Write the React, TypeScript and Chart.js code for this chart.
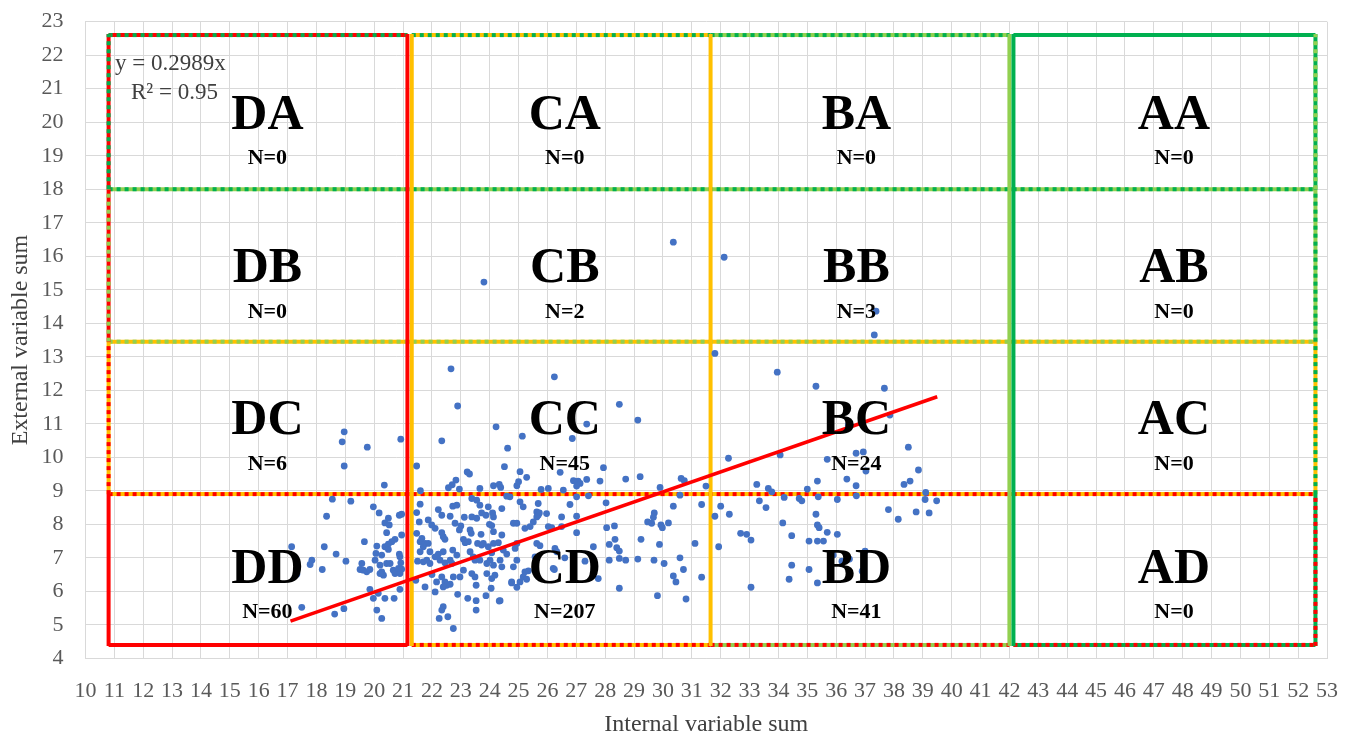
import React, { useEffect, useRef } from 'react';
import { Chart, registerables } from 'chart.js';
Chart.register(...registerables);

// ---------- axis ranges ----------
const xMin = 10, xMax = 53, yMin = 4, yMax = 23;
const xTitle = 'Internal variable sum';
const yTitle = 'External variable sum';

// ---------- region boundaries (data units) ----------
const colEdgesD = [10.8, 21.15];
const colEdgesC = [21.3, 31.65];
const colEdgesB = [31.65, 42.0];
const colEdgesA = [42.14, 52.6];
const rowEdges = [4.4, 8.9, 13.45, 18, 22.6];

// ---------- region labels ----------
const regionNames = ['DA', 'CA', 'BA', 'AA', 'DB', 'CB', 'BB', 'AB', 'DC', 'CC', 'BC', 'AC', 'DD', 'CD', 'BD', 'AD'];
const regionCounts = [0, 0, 0, 0, 0, 2, 3, 0, 6, 45, 24, 0, 60, 207, 41, 0];
const labelColX = [16.3, 26.6, 36.7, 47.7];
const labelNameRowY = [20.3, 15.72, 11.2, 6.75];
const labelCountRowY = [18.95, 14.38, 9.83, 5.4];

// ---------- trendline ----------
const trendSlope = 0.2989;
const trendRSquared = 0.95;
const trendXRange = [17.1, 39.5];

// ---------- data points by region ----------
const ptsDC = [[18.96, 10.76], [18.89, 10.46], [19.76, 10.3], [20.92, 10.54], [18.96, 9.74], [20.35, 9.17]];

const ptsDD = [
  [17.14, 7.33], [17.32, 6.51], [17.84, 6.93], [17.78, 6.8], [17.49, 5.52], [18.27, 7.33], [18.2, 6.65],
  [18.68, 7.11], [19.02, 6.9], [18.35, 8.24], [18.55, 8.75], [19.19, 8.69], [18.63, 5.32], [18.95, 5.48],
  [19.66, 7.48], [19.57, 6.83], [19.51, 6.65], [19.62, 6.63], [19.74, 6.58], [19.85, 6.65], [19.97, 8.52],
  [20.17, 8.34], [20.49, 8.18], [20.37, 8.04], [20.52, 7.98], [20.43, 7.75], [20.87, 8.27], [20.95, 8.3],
  [20.72, 7.55], [20.61, 7.48], [20.49, 7.41], [20.09, 7.35], [20.06, 7.13], [20.26, 7.08], [20.37, 7.33],
  [20.49, 7.25], [20.87, 7.11], [20.03, 6.93], [20.2, 6.78], [20.26, 6.58], [20.43, 6.83], [20.55, 6.83],
  [20.32, 6.48], [20.2, 6.53], [20.66, 6.63], [20.72, 6.53], [20.84, 6.68], [20.95, 6.66], [20.89, 6.53],
  [20.92, 6.85], [19.85, 6.06], [19.97, 5.79], [20.14, 5.94], [20.37, 5.79], [20.69, 5.79], [20.89, 6.06],
  [20.09, 5.44], [20.26, 5.19], [20.95, 7.68], [20.89, 7.03]
];

const ptsCB = [[23.8, 15.23], [30.36, 16.42]];

const ptsCC = [
  [21.47, 9.74], [22.66, 12.64], [22.89, 11.53], [22.34, 10.49], [24.22, 10.91], [25.13, 10.63], [24.62, 10.27],
  [26.24, 12.4], [23.22, 9.56], [23.3, 9.5], [24.51, 9.72], [25.05, 9.57], [25.28, 9.4], [22.83, 9.32],
  [22.7, 9.18], [22.57, 9.09], [23.66, 9.07], [24.13, 9.15], [24.33, 9.19], [24.38, 9.1], [24.94, 9.15],
  [25.0, 9.27], [25.78, 9.04], [26.03, 9.07], [28.49, 11.58], [29.13, 11.11], [27.36, 10.99], [26.86, 10.56],
  [26.44, 9.55], [27.94, 9.69], [27.36, 9.34], [27.06, 9.29], [27.82, 9.29], [28.71, 9.35], [29.21, 9.42],
  [30.63, 9.37], [30.74, 9.3], [29.9, 9.1], [31.49, 9.14], [26.55, 9.02], [27.13, 9.22], [27.01, 9.14],
  [22.95, 9.05], [21.6, 9.0], [26.9, 9.3]
];

const ptsCD = [
  [24.59, 8.84], [24.7, 8.82], [23.38, 8.77], [23.55, 8.72], [23.66, 8.57], [21.59, 8.6], [22.72, 8.54],
  [22.86, 8.57], [22.22, 8.44], [22.34, 8.27], [24.1, 8.34], [25.05, 8.67], [25.16, 8.52], [25.68, 8.62],
  [25.63, 8.37], [25.68, 8.27], [23.12, 8.21], [23.38, 8.22], [23.55, 8.18], [23.72, 8.34], [23.87, 8.27],
  [23.95, 8.52], [21.87, 8.13], [21.56, 8.07], [22.63, 8.24], [25.51, 8.07], [25.4, 7.93], [25.22, 7.88],
  [24.82, 8.03], [24.94, 8.03], [21.99, 7.98], [22.11, 7.88], [22.8, 8.03], [22.95, 7.83], [23.99, 8.0],
  [24.07, 7.96], [23.32, 7.83], [23.36, 7.73], [24.13, 7.78], [24.42, 7.68], [21.47, 7.73], [21.65, 7.58],
  [21.59, 7.48], [21.76, 7.43], [21.87, 7.43], [22.34, 7.75], [22.39, 7.63], [22.45, 7.55], [23.09, 7.55],
  [23.15, 7.45], [23.26, 7.48], [23.58, 7.43], [23.72, 7.38], [23.78, 7.43], [23.95, 7.33], [24.13, 7.43],
  [24.07, 7.15], [24.94, 7.43], [24.88, 7.28], [24.47, 7.23], [24.59, 7.11], [23.32, 7.18], [23.43, 7.03],
  [23.49, 6.93], [22.72, 7.23], [22.86, 7.08], [22.63, 6.93], [22.69, 6.83], [22.39, 7.18], [22.22, 7.11],
  [22.28, 6.93], [22.45, 6.85], [21.7, 7.33], [21.59, 7.18], [21.82, 6.93], [21.7, 6.88], [21.93, 6.83],
  [21.93, 7.18], [22.11, 7.03], [23.66, 6.93], [23.9, 6.83], [24.01, 6.93], [24.13, 6.78], [24.36, 6.93],
  [24.42, 6.73], [24.82, 6.73], [24.94, 6.93], [23.9, 6.53], [24.18, 6.48], [24.07, 6.38], [23.09, 6.63],
  [22.97, 6.43], [22.74, 6.43], [23.38, 6.53], [23.49, 6.43], [22.34, 6.43], [22.45, 6.28], [22.51, 6.18],
  [22.39, 6.13], [22.16, 6.28], [22.11, 5.98], [21.76, 6.13], [22.63, 6.21], [23.53, 6.18], [24.05, 6.09],
  [23.87, 5.87], [24.76, 6.25], [24.94, 6.12], [24.36, 5.72], [23.53, 5.72], [23.53, 5.44], [23.24, 5.79],
  [22.89, 5.91], [22.39, 5.54], [22.34, 5.44], [22.25, 5.19], [22.55, 5.24], [22.74, 4.89], [25.16, 6.43],
  [25.28, 6.36], [25.57, 7.03], [26.2, 6.68], [24.42, 8.47], [24.13, 8.22], [21.44, 6.33], [21.47, 8.35],
  [21.5, 6.9], [22.0, 6.5], [23.0, 7.95], [23.7, 7.7], [24.3, 7.45],
  [30.59, 8.87], [27.42, 8.85], [27.01, 8.82], [26.78, 8.59], [28.03, 8.64], [30.36, 8.54], [31.34, 8.59],
  [27.01, 8.24], [26.49, 8.22], [29.7, 8.34], [29.67, 8.21], [29.47, 8.07], [29.61, 8.03], [29.93, 7.98],
  [29.98, 7.9], [30.19, 8.04], [28.05, 7.9], [28.32, 7.95], [27.01, 7.75], [29.24, 7.55], [28.34, 7.55],
  [28.14, 7.4], [28.4, 7.3], [28.49, 7.2], [28.71, 6.93], [29.88, 7.4], [31.11, 7.43], [27.59, 7.33],
  [28.14, 6.93], [28.49, 6.98], [29.13, 6.96], [29.69, 6.93], [30.04, 6.83], [30.59, 7.0], [30.71, 6.65],
  [30.36, 6.46], [30.45, 6.28], [31.34, 6.42], [28.49, 6.09], [29.81, 5.87], [30.8, 5.77], [27.76, 6.38],
  [25.72, 8.34], [25.97, 8.32], [25.63, 8.22], [26.03, 7.93], [26.15, 7.9], [26.49, 7.93], [25.63, 7.43],
  [25.74, 7.36], [26.26, 7.28], [26.32, 7.18], [26.24, 6.65], [25.22, 6.58], [25.34, 6.61], [25.05, 6.28],
  [24.76, 6.28], [24.33, 5.71], [26.9, 6.6], [27.3, 6.9], [26.6, 7.0]
];

const ptsBB = [[32.12, 15.97], [37.38, 14.36], [37.32, 13.65]];

const ptsBC = [
  [31.8, 13.1], [33.96, 12.54], [35.3, 12.12], [37.67, 12.06], [32.27, 9.97], [34.06, 10.07], [35.69, 9.94],
  [36.94, 10.16], [36.69, 10.12], [38.5, 10.3], [38.85, 9.62], [38.56, 9.29], [38.35, 9.19], [36.37, 9.35],
  [36.69, 9.15], [35.35, 9.29], [37.03, 9.59], [33.25, 9.19], [33.65, 9.07], [33.77, 8.97], [36.42, 10.96],
  [37.86, 11.26], [35.0, 9.05], [39.1, 8.95]
];

const ptsBD = [
  [32.0, 8.54], [31.8, 8.24], [33.34, 8.7], [33.57, 8.5], [34.72, 8.77], [34.81, 8.7], [35.38, 8.82],
  [36.04, 8.74], [35.3, 8.3], [35.35, 7.98], [35.41, 7.9], [34.15, 8.04], [35.69, 7.76], [36.04, 7.7],
  [34.46, 7.66], [32.69, 7.73], [32.9, 7.7], [33.05, 7.53], [35.06, 7.5], [35.35, 7.5], [35.56, 7.5],
  [37.81, 8.44], [38.15, 8.15], [38.77, 8.37], [39.22, 8.34], [39.08, 8.74], [39.48, 8.7], [31.93, 7.33],
  [35.9, 7.08], [36.46, 6.96], [34.46, 6.78], [35.06, 6.65], [34.37, 6.36], [35.35, 6.25], [33.05, 6.12],
  [36.7, 8.85], [36.2, 6.9], [37.0, 7.2], [36.9, 6.6], [32.3, 8.3], [34.2, 8.8]
];

const allPointGroups = [ptsDC, ptsDD, ptsCB, ptsCC, ptsCD, ptsBB, ptsBC, ptsBD];

// ---------- styles ----------
const RED = '#FF0000';
const YEL = '#FFC000';
const LG = '#92D050';
const DG = '#00B050';
const SERIF = '"Liberation Serif", "Times New Roman", serif';

const boxPlugin = {
  id: 'regionBoxes',
  beforeDatasetsDraw(chart: any) {
    const { ctx, scales } = chart;
    const sx = scales.x, sy = scales.y;
    const [yB, yDC, yCB, yBA, yT] = rowEdges;
    const seg = (x1: number, y1: number, x2: number, y2: number, base: string, dash?: string) => {
      const X1 = sx.getPixelForValue(x1), Y1 = sy.getPixelForValue(y1);
      const X2 = sx.getPixelForValue(x2), Y2 = sy.getPixelForValue(y2);
      ctx.lineWidth = 4;
      ctx.lineCap = 'butt';
      ctx.setLineDash([]);
      ctx.strokeStyle = base;
      ctx.beginPath();
      ctx.moveTo(X1, Y1);
      ctx.lineTo(X2, Y2);
      ctx.stroke();
      if (dash) {
        ctx.setLineDash([4, 4]);
        ctx.strokeStyle = dash;
        ctx.beginPath();
        ctx.moveTo(X1, Y1);
        ctx.lineTo(X2, Y2);
        ctx.stroke();
      }
    };
    ctx.save();
    const left = colEdgesD[0], right = colEdgesA[1];
    // top edges
    seg(colEdgesD[0], yT, colEdgesD[1], yT, RED, DG);
    seg(colEdgesC[0], yT, colEdgesC[1], yT, YEL, DG);
    seg(colEdgesB[0], yT, colEdgesB[1], yT, LG, DG);
    seg(colEdgesA[0], yT, colEdgesA[1], yT, DG);
    // inner horizontals
    seg(left, yBA, right, yBA, LG, DG);
    seg(left, yCB, right, yCB, YEL, LG);
    seg(left, yDC, right, yDC, YEL, RED);
    // bottom edges
    seg(colEdgesD[0], yB, colEdgesD[1], yB, RED);
    seg(colEdgesC[0], yB, colEdgesC[1], yB, YEL, RED);
    seg(colEdgesB[0], yB, colEdgesB[1], yB, LG, RED);
    seg(colEdgesA[0], yB, colEdgesA[1], yB, DG, RED);
    // left outer edge
    seg(left, yBA, left, yT + 0.03, RED, DG);
    seg(left, yCB, left, yBA, RED, LG);
    seg(left, yDC, left, yCB, YEL, RED);
    seg(left, yB - 0.03, left, yDC, RED);
    // right outer edge
    seg(right, yBA, right, yT + 0.03, DG, LG);
    seg(right, yCB, right, yBA, LG, DG);
    seg(right, yDC, right, yCB, YEL, DG);
    seg(right, yB - 0.03, right, yDC, DG, RED);
    // column separators
    seg(colEdgesD[1], yB - 0.03, colEdgesD[1], yT + 0.03, RED);
    seg(colEdgesC[0], yB - 0.03, colEdgesC[0], yT + 0.03, YEL);
    seg(colEdgesC[1], yB - 0.03, colEdgesC[1], yT + 0.03, YEL);
    seg(colEdgesB[1], yB - 0.03, colEdgesB[1], yT + 0.03, LG);
    seg(colEdgesA[0], yB - 0.03, colEdgesA[0], yT + 0.03, DG);
    ctx.restore();
  },
  afterDatasetsDraw(chart: any) {
    const { ctx, scales } = chart;
    const sx = scales.x, sy = scales.y;
    ctx.save();
    ctx.fillStyle = '#000000';
    ctx.textAlign = 'center';
    ctx.textBaseline = 'alphabetic';
    regionNames.forEach((name, i) => {
      const col = i % 4, row = Math.floor(i / 4);
      const px = sx.getPixelForValue(labelColX[col]);
      const pyName = sy.getPixelForValue(labelNameRowY[row]);
      const pyCount = sy.getPixelForValue(labelCountRowY[row]);
      ctx.font = `bold 50px ${SERIF}`;
      ctx.fillText(name, px, pyName + 16.5);
      ctx.font = `bold 22px ${SERIF}`;
      ctx.fillText(`N=${regionCounts[i]}`, px, pyCount + 7);
    });
    // trendline equation
    ctx.fillStyle = '#404040';
    ctx.font = `23px ${SERIF}`;
    ctx.textAlign = 'left';
    ctx.fillText(`y = ${trendSlope}x`, sx.getPixelForValue(11.02), sy.getPixelForValue(21.77) + 7.5);
    ctx.textAlign = 'center';
    ctx.fillText(`R² = ${trendRSquared}`, sx.getPixelForValue(13.08), sy.getPixelForValue(20.93) + 7.5);
    ctx.restore();
  }
};

export default function App() {
  const ref = useRef<HTMLCanvasElement | null>(null);
  useEffect(() => {
    if (!ref.current) return;
    const points = allPointGroups.flat().map(([x, y]) => ({ x, y }));
    const trend = trendXRange.map((x) => ({ x, y: trendSlope * x }));
    const chart = new Chart(ref.current, {
      type: 'scatter',
      data: {
        datasets: [
          {
            type: 'line',
            data: trend,
            borderColor: RED,
            borderWidth: 3.5,
            pointRadius: 0,
            fill: false,
            order: 0,
          } as any,
          {
            type: 'scatter',
            data: points,
            backgroundColor: '#4472C4',
            borderWidth: 0,
            pointRadius: 3.4,
            order: 1,
          } as any,
        ],
      },
      options: {
        animation: false,
        responsive: false,
        layout: { padding: { left: 0, right: 27, top: 21.7, bottom: 0 } },
        plugins: { legend: { display: false }, tooltip: { enabled: false } },
        scales: {
          x: {
            type: 'linear',
            min: xMin,
            max: xMax,
            ticks: {
              stepSize: 1,
              autoSkip: false,
              maxRotation: 0,
              color: '#595959',
              font: { family: SERIF, size: 22 },
              padding: 0,
            },
            grid: { color: '#d9d9d9', drawTicks: true, tickLength: 20, tickColor: 'rgba(0,0,0,0)' },
            border: { color: '#d9d9d9' },
            title: {
              display: true,
              text: xTitle,
              color: '#404040',
              font: { family: SERIF, size: 24 },
              padding: { top: 0, bottom: -4 },
            },
            afterFit(s: any) {
              s.height = 76.7;
            },
          },
          y: {
            type: 'linear',
            min: yMin,
            max: yMax,
            ticks: {
              stepSize: 1,
              autoSkip: false,
              color: '#595959',
              font: { family: SERIF, size: 22 },
              padding: 0,
            },
            grid: { color: '#d9d9d9', drawTicks: true, tickLength: 22, tickColor: 'rgba(0,0,0,0)' },
            border: { color: '#d9d9d9' },
            title: {
              display: true,
              text: yTitle,
              color: '#404040',
              font: { family: SERIF, size: 24 },
              padding: { top: 6, bottom: 0 },
            },
            afterFit(s: any) {
              s.width = 85.5;
            },
          },
        },
      } as any,
      plugins: [boxPlugin],
    });
    return () => chart.destroy();
  }, []);
  return (
    <canvas
      ref={ref}
      width={1354}
      height={735}
      style={{ position: 'fixed', left: 0, top: 0, width: 1354, height: 735, display: 'block', background: '#fff' }}
    />
  );
}
